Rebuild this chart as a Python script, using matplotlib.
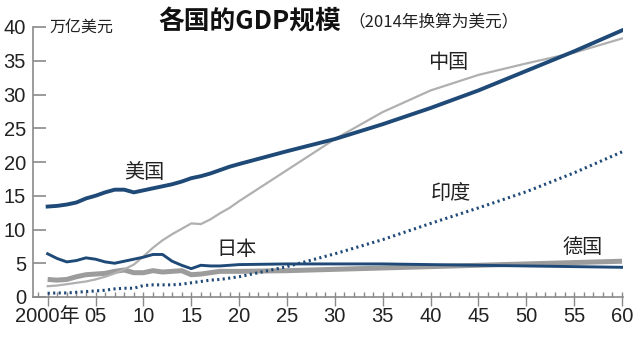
import matplotlib
matplotlib.use("Agg")
import matplotlib.pyplot as plt
from matplotlib.ticker import MultipleLocator, FixedLocator
from matplotlib import font_manager

# ---- data (x = years since 2000) ----
years = [0, 1, 2, 3, 4, 5, 6, 7, 8, 9, 10, 11, 12, 13, 14, 15, 16, 17, 18, 19, 20,
         25, 30, 35, 40, 45, 50, 55, 60]
usa = [13.4, 13.5, 13.7, 14.0, 14.6, 15.0, 15.5, 15.9, 15.9, 15.5, 15.8, 16.1, 16.4, 16.7,
       17.1, 17.6, 17.9, 18.3, 18.8, 19.3, 19.7,
       21.6, 23.4, 25.6, 28.0, 30.6, 33.5, 36.4, 39.5]
china = [1.6, 1.7, 1.9, 2.1, 2.3, 2.6, 3.0, 3.5, 4.1, 4.8, 6.0, 7.3, 8.4, 9.3,
         10.1, 10.9, 10.8, 11.5, 12.4, 13.2, 14.2,
         18.8, 23.4, 27.4, 30.6, 32.9, 34.6, 36.2, 38.3]
japan = [6.4, 5.7, 5.2, 5.4, 5.8, 5.6, 5.2, 5.0, 5.3, 5.6, 5.9, 6.3, 6.3, 5.3,
         4.7, 4.2, 4.7, 4.6, 4.6, 4.7, 4.8,
         4.9, 4.9, 4.9, 4.8, 4.7, 4.6, 4.5, 4.4]
germany = [2.6, 2.5, 2.6, 3.0, 3.3, 3.4, 3.5, 3.8, 4.0, 3.6, 3.6, 3.9, 3.7, 3.8,
           3.9, 3.3, 3.4, 3.6, 3.8, 3.8, 3.8,
           3.9, 4.1, 4.3, 4.5, 4.7, 4.9, 5.1, 5.3]
india = [0.55, 0.6, 0.6, 0.7, 0.8, 0.9, 1.0, 1.2, 1.3, 1.3, 1.7, 1.8, 1.8, 1.8,
         1.9, 2.1, 2.3, 2.5, 2.6, 2.8, 3.0,
         4.5, 6.4, 8.5, 10.9, 13.2, 15.6, 18.4, 21.5]
xtick_pos = [0, 5, 10, 15, 20, 25, 30, 35, 40, 45, 50, 55, 60]
xtick_labels = ['2000年', '05', '10', '15', '20', '25', '30', '35', '40', '45', '50', '55', '60']
ytick_pos = [0, 5, 10, 15, 20, 25, 30, 35, 40]

title = '各国的GDP规模'
subtitle = '（2014年换算为美元）'
unit = '万亿美元'

available = {f.name for f in font_manager.fontManager.ttflist}
num_font = 'Liberation Sans Narrow' if 'Liberation Sans Narrow' in available else 'Liberation Sans'
FAM = [num_font, 'Noto Sans CJK SC', 'DejaVu Sans']
CJK = ['Noto Sans CJK SC', 'DejaVu Sans']
plt.rcParams['font.family'] = FAM

BLUE = '#1f4a78'
LGRAY = '#b0b0b0'
MGRAY = '#9c9c9c'
AXC = '#8a8a8a'

fig = plt.figure(figsize=(6.4, 3.38), dpi=100)
ax = fig.add_axes([33/640, 1-297/338, (623-33)/640, (297-27)/338])
ax.set_xlim(-1.53, 60.1)
ax.set_ylim(0, 40)

ax.plot(years, germany, color=MGRAY, lw=3.6, solid_capstyle='butt', zorder=2)
ax.plot(years, china, color=LGRAY, lw=1.6, zorder=3)
ax.plot(years, japan, color=BLUE, lw=2.1, zorder=4)
ax.plot(years, usa, color=BLUE, lw=2.8, zorder=5)
ax.plot(years, india, color=BLUE, lw=2.2, linestyle=(0, (0.7, 1.1)), zorder=4)

for s in ['top', 'right']:
    ax.spines[s].set_visible(False)
for s in ['left', 'bottom']:
    ax.spines[s].set_color(AXC)
    ax.spines[s].set_linewidth(1.2)
ax.spines['left'].set_bounds(0, 40)

ax.set_yticks(ytick_pos)
ax.set_yticklabels([str(v) for v in ytick_pos], family=FAM, fontsize=14.5)
ax.tick_params(axis='y', direction='in', length=9.5, width=1.2, color=AXC, pad=5)

ax.set_xticks(xtick_pos)
ax.set_xticklabels(xtick_labels, family=FAM, fontsize=14.5)
ax.xaxis.set_minor_locator(MultipleLocator(1))
ax.xaxis.remove_overlapping_locs = False
ax.tick_params(axis='x', which='major', direction='out', length=6.5, width=1.0,
               color=AXC, pad=1)
ax.tick_params(axis='x', which='minor', direction='in', length=3.5, width=1.0, color=AXC)
for lab in ax.get_yticklabels() + ax.get_xticklabels():
    lab.set_color('#222222')

# unit label next to 40 tick
ax.text(0.15, 40, unit, family=CJK, fontsize=11.5, ha='left', va='center', color='#222222')

# series labels
lab_kw = dict(family=CJK, fontsize=14.5, ha='center', va='center', color='#222222')
ax.text(10.1, 18.5, '美国', **lab_kw)
ax.text(41.8, 34.7, '中国', **lab_kw)
ax.text(19.7, 7.1, '日本', **lab_kw)
ax.text(42.1, 15.4, '印度', **lab_kw)
ax.text(55.9, 7.3, '德国', **lab_kw)

# title
fig.text(158/640, 1-22/338, title, family=CJK, fontsize=18.5, fontweight='bold',
         ha='left', va='center', color='#111111')
fig.text(348/640, 1-23/338, subtitle, family=CJK, fontsize=12,
         ha='left', va='center', color='#222222')

fig.savefig('out.png', dpi=100, facecolor='white')
